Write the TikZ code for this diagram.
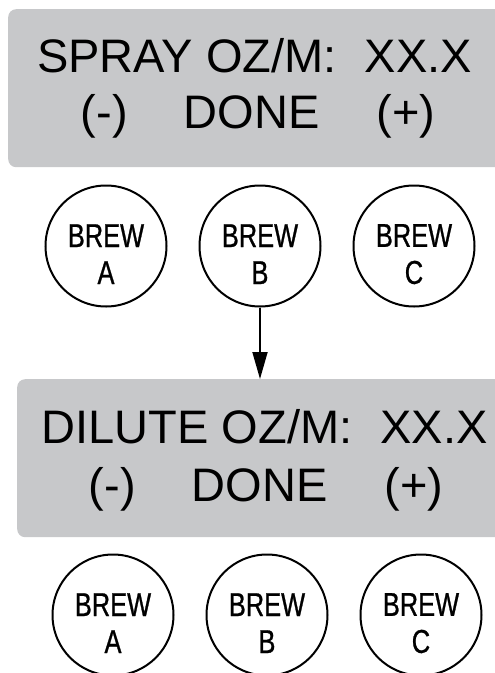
\documentclass[tikz,border=0pt]{standalone}
\usepackage{fontspec}
\setmainfont{Liberation Sans}
\newfontfamily\narrowfont[FakeStretch=0.77,FakeBold=0.8]{Liberation Sans}
\usepackage{tikz}
\usetikzlibrary{positioning,arrows.meta}
\definecolor{panelgray}{RGB}{199,200,202}
\newcommand{\btnlabel}[1]{\rule{0pt}{39pt}BREW\\#1}

\begin{document}
\begin{tikzpicture}[x=1pt, y=-1pt,
  panel/.style={fill=panelgray, rounded corners=8pt, anchor=north west, minimum width=520pt, minimum height=158pt, inner sep=0pt},
  txt/.style={anchor=base, inner sep=0pt, font=\fontsize{47}{56}\selectfont},
  btn/.style={draw, circle, line width=2pt, minimum size=121pt, inner sep=0pt, align=center, font=\narrowfont\fontsize{33}{37}\selectfont},
  arr/.style={-{Triangle[length=27pt,width=15pt]}, line width=1.8pt}]
\useasboundingbox (0,0) rectangle (495,673);
\node[panel] (spray) at (8,9) {};
\node[txt] (sprayhead) at (254.5,72) {SPRAY OZ/M:\hspace{28pt}XX.X};
\node[txt] (spraykeys) at (258,128) {(-)\hspace{56pt}DONE\hspace{57pt}(+)};
\node[btn] (sa) at (106,246) {\btnlabel{A}};
\node[btn, right=31pt of sa] (sb) {\btnlabel{B}};
\node[btn, right=31pt of sb] (sc) {\btnlabel{C}};
\node[panel] (dilute) at (17,379) {};
\node[txt] (dilutehead) at (264.5,443) {DILUTE OZ/M:\hspace{28pt}XX.X};
\node[txt] (dilutekeys) at (266,501) {(-)\hspace{56pt}DONE\hspace{57pt}(+)};
\node[btn] (da) at (113,615) {\btnlabel{A}};
\node[btn, right=31pt of da] (db) {\btnlabel{B}};
\node[btn, right=31pt of db] (dc) {\btnlabel{C}};
\draw[arr] (sb) -- (sb |- dilute.north);
\end{tikzpicture}
\end{document}
